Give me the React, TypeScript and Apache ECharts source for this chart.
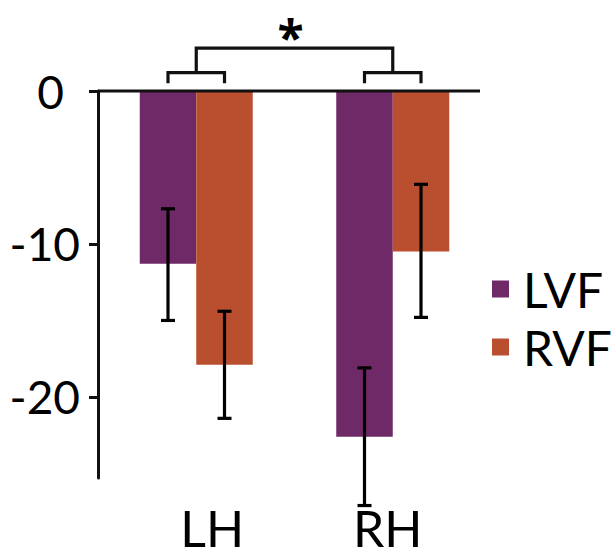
import React, { useEffect, useRef } from 'react';
import * as echarts from 'echarts';

const categories = ['LH', 'RH'];
const seriesNames = ['LVF', 'RVF'];
const lvfMeans = [-11.3, -22.6];
const rvfMeans = [-17.9, -10.5];
const lvfErrLow = [-15.0, -27.1];
const lvfErrHigh = [-7.7, -18.1];
const rvfErrLow = [-21.4, -14.8];
const rvfErrHigh = [-14.4, -6.1];
const yTicks = [0, -10, -20];
const yMin = -25.3;
const yMax = 0;
const comparisons = [[0, 1]];
const comparisonLabels = ['*'];

const COLORS = ['#6e2966', '#ba4f2f'];
const FONT = 'Lato';
const BAR_W = 56.5;
const CAP = 7;
const INK = '#111';

export default function App() {
  const ref = useRef<HTMLDivElement>(null);
  useEffect(() => {
    if (!ref.current) return;
    const chart = echarts.init(ref.current, undefined, { renderer: 'svg' });

    const makeErr = (name: string, lows: number[], highs: number[], side: number) => ({
      type: 'custom',
      name: name + '-err',
      data: categories.map((_, i) => [i, lows[i], highs[i]]),
      encode: { x: 0, y: [1, 2] },
      z: 5,
      silent: true,
      renderItem: (_p: any, api: any) => {
        const c = api.value(0);
        const lo = api.coord([c, api.value(1)]);
        const hi = api.coord([c, api.value(2)]);
        const x = lo[0] + (side * BAR_W) / 2;
        const style = { stroke: '#000', lineWidth: 3.2, fill: 'none' };
        return {
          type: 'group',
          children: [
            { type: 'line', shape: { x1: x, y1: hi[1], x2: x, y2: lo[1] }, style },
            { type: 'line', shape: { x1: x - CAP, y1: hi[1], x2: x + CAP, y2: hi[1] }, style },
            { type: 'line', shape: { x1: x - CAP, y1: lo[1], x2: x + CAP, y2: lo[1] }, style },
          ],
        };
      },
    });

    const bracketSeries = {
      type: 'custom',
      name: 'brackets',
      data: comparisons.map(([a, b]) => [a, b, 0]),
      encode: { x: [0, 1], y: 2 },
      z: 6,
      silent: true,
      renderItem: (p: any, api: any) => {
        const a = api.value(0);
        const b = api.value(1);
        const style = { stroke: INK, lineWidth: 3.2, fill: 'none' };
        const children: any[] = [];
        const small = (c: number) => {
          const cx = api.coord([c, 0])[0];
          const yb = api.coord([c, 0.5])[1];
          const yt = api.coord([c, 1.2])[1];
          const off = BAR_W / 2;
          children.push({
            type: 'polyline',
            shape: { points: [[cx - off, yb], [cx - off, yt], [cx + off, yt], [cx + off, yb]] },
            style,
          });
          return cx;
        };
        const ca = small(a);
        const cb = small(b);
        const y1 = api.coord([a, 1.2])[1];
        const y2 = api.coord([a, 2.8])[1];
        children.push({
          type: 'polyline',
          shape: { points: [[ca, y1], [ca, y2], [cb, y2], [cb, y1]] },
          style,
        });
        children.push({
          type: 'text',
          style: {
            text: comparisonLabels[p.dataIndex],
            x: (ca + cb) / 2 - 4,
            y: api.coord([a, 3.55])[1],
            fontSize: 48,
            lineHeight: 30,
            fontWeight: 'bold',
            fontFamily: 'Open Sans',
            fill: '#000',
            align: 'center',
            verticalAlign: 'middle',
          },
        });
        return { type: 'group', children };
      },
    };

    chart.setOption({
      animation: false,
      grid: { left: 98, top: 91, width: 393, height: 387, containLabel: false },
      legend: {
        orient: 'vertical',
        left: 492,
        top: 265,
        padding: 0,
        itemWidth: 17,
        itemHeight: 17,
        itemGap: 10,
        icon: 'rect',
        data: seriesNames,
        textStyle: {
          fontSize: 48,
          lineHeight: 47,
          fontFamily: FONT,
          color: '#000',
          padding: [0, 0, 0, 9],
        },
      },
      xAxis: {
        type: 'category',
        data: categories,
        position: 'bottom',
        axisLine: { show: false, onZero: false },
        axisTick: { show: false },
        splitLine: { show: false },
        axisLabel: {
          margin: 26,
          formatter: (v: string) => `{${v}|${v}}`,
          rich: {
            LH: { fontSize: 50, lineHeight: 48, fontFamily: FONT, color: '#000', padding: [0, 0, 0, 32] },
            RH: { fontSize: 50, lineHeight: 48, fontFamily: FONT, color: '#000', padding: [0, 10, 0, 0] },
          },
        },
      },
      yAxis: {
        type: 'value',
        min: yMin,
        max: yMax,
        splitLine: { show: false },
        axisLine: { show: true, lineStyle: { color: INK, width: 3 } },
        axisTick: { show: true, length: 9, customValues: yTicks, lineStyle: { color: INK, width: 3 } },
        axisLabel: {
          customValues: yTicks,
          margin: 18,
          formatter: (v: number) => (v === 0 ? `{z|${v}}` : `{n|${v}}`),
          rich: {
            z: { fontSize: 46, lineHeight: 46, fontFamily: FONT, color: '#000', padding: [0, 16, 0, 0] },
            n: { fontSize: 46, lineHeight: 46, fontFamily: FONT, color: '#000' },
          },
        },
      },
      series: [
        {
          type: 'bar',
          name: seriesNames[0],
          data: lvfMeans,
          barWidth: BAR_W,
          barGap: '0%',
          itemStyle: { color: COLORS[0] },
          z: 2,
        },
        {
          type: 'bar',
          name: seriesNames[1],
          data: rvfMeans,
          barWidth: BAR_W,
          barGap: '0%',
          itemStyle: { color: COLORS[1] },
          z: 2,
        },
        makeErr(seriesNames[0], lvfErrLow, lvfErrHigh, -1),
        makeErr(seriesNames[1], rvfErrLow, rvfErrHigh, 1),
        bracketSeries,
      ],
    });

    const y0 = chart.convertToPixel({ yAxisIndex: 0 }, 0) as number;
    chart.setOption({
      graphic: [
        {
          type: 'line',
          z: 10,
          shape: { x1: 98, y1: y0, x2: 480, y2: y0 },
          style: { stroke: INK, lineWidth: 3 },
        },
      ],
    });

    return () => chart.dispose();
  }, []);

  return (
    <div
      ref={ref}
      style={{ position: 'fixed', left: 0, top: 0, width: 615, height: 559, background: '#fff' }}
    />
  );
}
